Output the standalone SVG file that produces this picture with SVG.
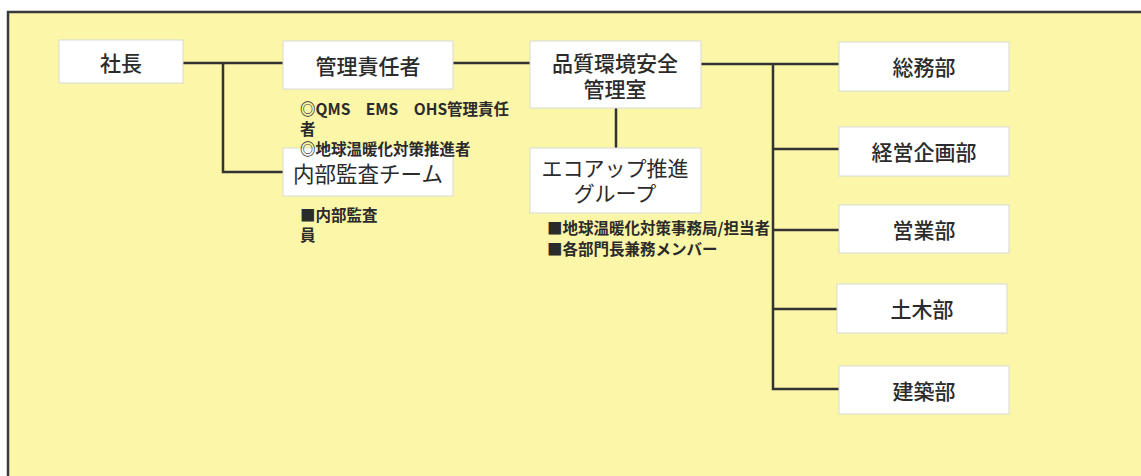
<svg xmlns="http://www.w3.org/2000/svg" width="1141" height="476" viewBox="0 0 1141 476">
<style>
.box{fill:#fff;stroke:#d9d9d6;stroke-width:1}
.lbl{font-family:"Noto Sans CJK JP","Noto Sans",sans-serif;font-size:21px;font-weight:500;fill:#2b2b2b;text-anchor:middle;dominant-baseline:central}
.note{font-family:"Noto Sans CJK JP","Noto Sans",sans-serif;font-size:15.5px;font-weight:600;fill:#2b2b2b;dominant-baseline:central}
.con{fill:none;stroke:#333;stroke-width:2.5}
</style>
<rect x="0" y="0" width="1141" height="476" fill="#fff"/>
<rect x="8" y="12" width="1145" height="470" fill="#fbf6a8" stroke="#3a3a3a" stroke-width="2.5"/>
<g id="connectors">
<path class="con" d="M183 63H283"/>
<path class="con" d="M223 63V172H283"/>
<path class="con" d="M453 63H530"/>
<path class="con" d="M616 108V148"/>
<path class="con" d="M701 64H839"/>
<path class="con" d="M773 64V389H839"/>
<path class="con" d="M773 149H839"/>
<path class="con" d="M773 230H839"/>
<path class="con" d="M773 309H837"/>
</g>
<g id="n-shacho"><rect class="box" x="59" y="40" width="124" height="43"/><text class="lbl" x="121" y="62">社長</text></g>
<g id="n-kanri"><rect class="box" x="283" y="41" width="170" height="48"/><text class="lbl" x="368" y="65">管理責任者</text></g>
<g id="n-naibu"><rect class="box" x="283" y="148" width="170" height="48"/><text class="lbl" x="368" y="172" style="font-weight:400;font-size:21.5px">内部監査チーム</text></g>
<g id="n-hinshitsu"><rect class="box" x="530" y="41" width="171" height="67"/><text class="lbl" x="615" y="62">品質環境安全<tspan x="615" dy="26">管理室</tspan></text></g>
<g id="n-ecoup"><rect class="box" x="530" y="148" width="171" height="65"/><text class="lbl" x="615" y="167" style="font-weight:400">エコアップ推進<tspan x="615" dy="25">グループ</tspan></text></g>
<g id="n-somu"><rect class="box" x="839" y="42" width="170" height="49"/><text class="lbl" x="924" y="66">総務部</text></g>
<g id="n-keiei"><rect class="box" x="839" y="127" width="170" height="49"/><text class="lbl" x="924" y="151">経営企画部</text></g>
<g id="n-eigyo"><rect class="box" x="839" y="205" width="170" height="48"/><text class="lbl" x="924" y="229">営業部</text></g>
<g id="n-doboku"><rect class="box" x="837" y="284" width="170" height="49"/><text class="lbl" x="922" y="308">土木部</text></g>
<g id="n-kenchiku"><rect class="box" x="839" y="366" width="170" height="48"/><text class="lbl" x="924" y="390">建築部</text></g>
<g id="notes">
<text class="note" x="300" y="108">◎QMS　EMS　OHS管理責任<tspan x="300" dy="20">者</tspan><tspan x="300" dy="20">◎地球温暖化対策推進者</tspan></text>
<text class="note" x="300" y="214">■内部監査<tspan x="300" dy="20">員</tspan></text>
<text class="note" x="547" y="227">■地球温暖化対策事務局/担当者<tspan x="547" dy="21">■各部門長兼務メンバー</tspan></text>
</g>
</svg>
